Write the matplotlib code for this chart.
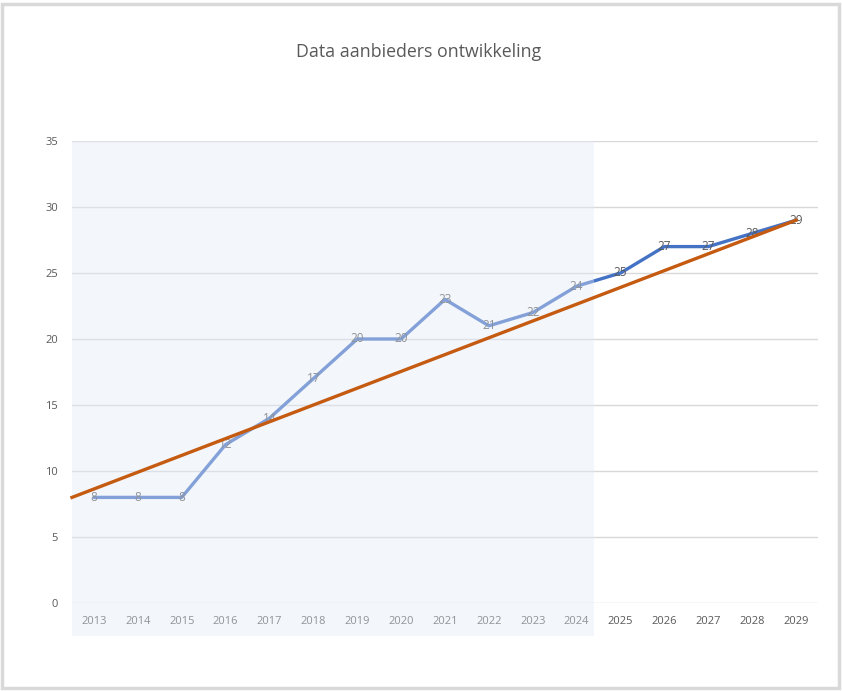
import matplotlib
matplotlib.use("Agg")
import matplotlib.pyplot as plt
import matplotlib.patches as mpatches
import matplotlib.transforms as mtransforms

years = [2013, 2014, 2015, 2016, 2017, 2018, 2019, 2020, 2021,
         2022, 2023, 2024, 2025, 2026, 2027, 2028, 2029]
providers = [8, 8, 8, 12, 14, 17, 20, 20, 23, 21, 22, 24, 25, 27, 27, 28, 29]

# straight trend line as drawn in the original
trend_years = [2012.5, 2029]
trend_values = [8.0, 29.0]

# shaded "history" block
history_end = 2024.4

title = "Data aanbieders ontwikkeling"
y_ticks = [0, 5, 10, 15, 20, 25, 30, 35]

TEXT = "#595959"
GRID = "#d9d9d9"
BLUE = "#4472c4"
ORANGE = "#c55a11"

plt.rcParams['font.family'] = ['Open Sans', 'DejaVu Sans']

fig = plt.figure(figsize=(8.42, 6.91), dpi=100)
# grey frame around the chart
fig.patches.append(mpatches.Rectangle((0.002, 0.004), 0.994, 0.99, transform=fig.transFigure,
                                      fill=False, edgecolor="#d9d9d9", linewidth=2.5))

ax = fig.add_axes([72 / 842, 1 - 603 / 691, (818 - 72) / 842, (603 - 141) / 691])

ax.set_xlim(2012.5, 2029.5)
ax.set_ylim(0, 35)
ax.set_yticks(y_ticks)
ax.set_xticks(years)
ax.set_xticklabels([str(y) for y in years])
ax.tick_params(axis='both', length=0, labelsize=8, labelcolor=TEXT)
ax.tick_params(axis='x', pad=9)
ax.tick_params(axis='y', pad=10)
for s in ax.spines.values():
    s.set_visible(False)
ax.grid(axis='y', color=GRID, linewidth=1)
ax.set_axisbelow(True)

ax.plot(years, providers, color=BLUE, linewidth=2.4, solid_capstyle='round', zorder=3)
for x, y in zip(years, providers):
    ax.text(x, y, str(y), ha='center', va='center', fontsize=8.5, color=TEXT, zorder=4)

# translucent overlay over the history years (also covers the tick labels)
trans = mtransforms.blended_transform_factory(ax.transData, ax.transAxes)
ax.add_patch(mpatches.Rectangle((2012.5, -33 / 462), history_end - 2012.5, 1 + 33 / 462,
                                transform=trans, facecolor="#e2eaf7", alpha=0.4,
                                edgecolor='none', clip_on=False, zorder=5))

ax.plot(trend_years, trend_values, color=ORANGE, linewidth=2.4, zorder=6, clip_on=False)

fig.text(0.497, 1 - 52 / 691, title, ha='center', va='center', fontsize=12.8,
         color=TEXT, family=['Open Sans', 'DejaVu Sans'])

fig.savefig("out.png", dpi=100)
